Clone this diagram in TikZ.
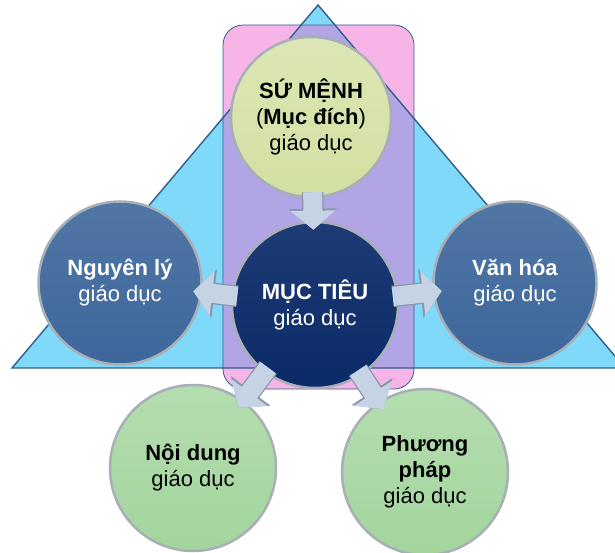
\documentclass[tikz,border=0pt]{standalone}
\usepackage{fontspec}
\setmainfont{Liberation Sans}
\usetikzlibrary{arrows.meta}

\definecolor{skyfill}{HTML}{80D9F9}
\definecolor{skyedge}{HTML}{2F5F8E}
\definecolor{pinkfill}{HTML}{F6B5E6}
\definecolor{lilacfill}{HTML}{B2A5E6}
\definecolor{missionfill}{HTML}{D3E0A2}
\definecolor{goalfill}{HTML}{0A2A68}
\definecolor{sidefill}{HTML}{3D679B}
\definecolor{lowfill}{HTML}{A2D59C}
\definecolor{arrowfill}{HTML}{C5D3E4}
\definecolor{arrowedge}{HTML}{8796AE}
\definecolor{rimgray}{HTML}{A9AFB6}

\tikzset{
  disc/.style={circle, draw=rimgray, line width=2.5pt, minimum size=#1, inner sep=0pt,
    align=center, font=\fontsize{22}{26}\selectfont},
  blockarrow/.style={draw=arrowfill, line width=19pt, -{Triangle[length=19pt,width=44pt]},
    shorten >=-9pt, shorten <=-6pt,
    preaction={draw=arrowedge, line width=21.5pt, -{Triangle[length=21pt,width=48pt]}}}
}

\begin{document}
\begin{tikzpicture}[x=1pt, y=-1pt]
\useasboundingbox (0,0) rectangle (615,553);
\clip (0,0) rectangle (615,553);
% background: triangle and rounded frame
\fill[skyfill] (12,368) -- (318,5) -- (625,368) -- cycle;
\fill[pinkfill, rounded corners=20pt] (223,25) rectangle (414,389);
\begin{scope}
\clip (12,368) -- (318,5) -- (625,368) -- cycle;
\fill[lilacfill, rounded corners=20pt] (223,25) rectangle (414,389);
\end{scope}
\draw[skyedge, line width=0.8pt, rounded corners=20pt] (223,25) rectangle (414,389);
\draw[skyedge, line width=1.4pt] (12,368) -- (318,5) -- (625,368) -- cycle;

% circles
\node[disc=160pt, top color=missionfill!80!white, bottom color=missionfill] (mission) at (311,117)
  {\textbf{SỨ MỆNH}\\(\textbf{Mục đích})\\giáo dục};
\node[disc=166pt, top color=goalfill!92!white, bottom color=goalfill, text=white] (goal) at (315,305)
  {\textbf{MỤC TIÊU}\\giáo dục};
\node[disc=163pt, top color=sidefill!90!white, bottom color=sidefill, text=white] (principle) at (120,283)
  {\textbf{Nguyên lý}\\giáo dục};
\node[disc=163pt, top color=sidefill!90!white, bottom color=sidefill, text=white] (culture) at (515,283)
  {\textbf{Văn hóa}\\giáo dục};
\node[disc=166pt, top color=lowfill!80!white, bottom color=lowfill] (content) at (193,468)
  {\textbf{Nội dung}\\giáo dục};
\node[disc=166pt, top color=lowfill!80!white, bottom color=lowfill] (method) at (425,472)
  {\textbf{Phương}\\\textbf{pháp}\\giáo dục};

% block arrows
\draw[blockarrow] (mission) -- (goal);
\draw[blockarrow] (goal) -- (principle);
\draw[blockarrow] (goal) -- (culture);
\draw[blockarrow] (goal) -- (content);
\draw[blockarrow] (goal) -- (method);
\end{tikzpicture}
\end{document}
